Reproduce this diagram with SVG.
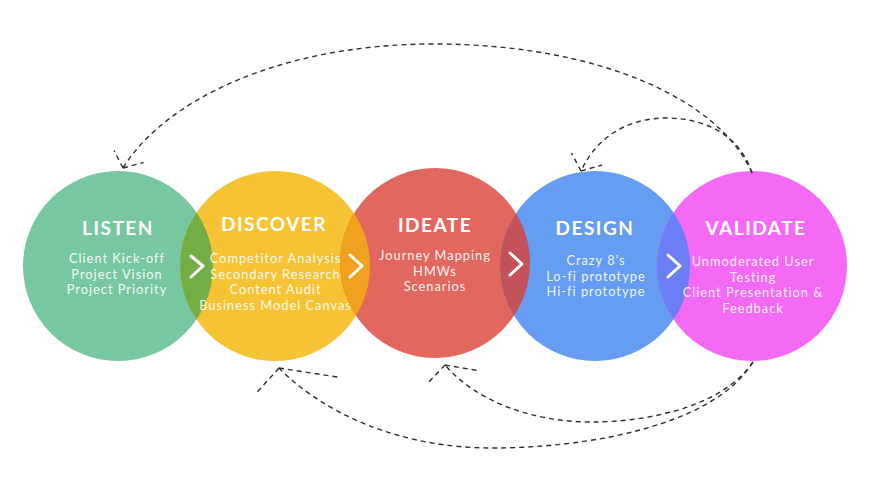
<svg xmlns="http://www.w3.org/2000/svg" width="870" height="489" viewBox="0 0 870 489">
<defs>
<style>
.title{font-family:Lato,"Open Sans","Liberation Sans",sans-serif;font-weight:700;font-size:19px;letter-spacing:1.5px;fill:#fff;text-anchor:middle}
.body{font-family:Lato,"Open Sans","Liberation Sans",sans-serif;font-weight:400;font-size:12.8px;letter-spacing:1px;fill:#fff;fill-opacity:0.93;text-anchor:middle}
.dash{fill:none;stroke:#2e2e2e;stroke-width:1.4;stroke-dasharray:5 4}
.chev{fill:none;stroke:#fff;stroke-width:3;stroke-linecap:round;stroke-linejoin:round}
</style>
<clipPath id="cl-listen"><circle cx="118" cy="266" r="95"/></clipPath>
<clipPath id="cl-discover"><circle cx="275" cy="266" r="95"/></clipPath>
<clipPath id="cl-ideate"><circle cx="435" cy="263" r="95"/></clipPath>
<clipPath id="cl-design"><circle cx="595" cy="266" r="95"/></clipPath>
</defs>
<rect width="870" height="489" fill="#fff"/>

<g id="listen">
<circle cx="118" cy="266" r="95" fill="#77C8A1"/>
<text class="title" x="118" y="235">LISTEN</text>
<text class="body" x="117" y="263">Client Kick-off</text>
<text class="body" x="117" y="278.5">Project Vision</text>
<text class="body" x="117" y="294">Project Priority</text>
</g>

<g id="discover">
<circle cx="275" cy="266" r="95" fill="#F5C333"/>
<circle cx="275" cy="266" r="95" fill="#73AD45" clip-path="url(#cl-listen)"/>
<text class="title" x="274" y="231">DISCOVER</text>
<text class="body" x="275.5" y="263">Competitor Analysis</text>
<text class="body" x="275.5" y="278.5">Secondary Research</text>
<text class="body" x="275.5" y="294">Content Audit</text>
<text class="body" x="275.5" y="309.5">Business Model Canvas</text>
</g>

<g id="ideate">
<circle cx="435" cy="263" r="95" fill="#E2685F"/>
<circle cx="435" cy="263" r="95" fill="#F0A11E" clip-path="url(#cl-discover)"/>
<text class="title" x="435" y="232">IDEATE</text>
<text class="body" x="435" y="260">Journey Mapping</text>
<text class="body" x="435" y="275.5">HMWs</text>
<text class="body" x="435" y="291">Scenarios</text>
</g>

<g id="design">
<circle cx="595" cy="266" r="95" fill="#659DF3"/>
<circle cx="595" cy="266" r="95" fill="#C4525B" clip-path="url(#cl-ideate)"/>
<text class="title" x="595" y="234.5">DESIGN</text>
<text class="body" x="596" y="265">Crazy 8’s</text>
<text class="body" x="596" y="280.5">Lo-fi prototype</text>
<text class="body" x="596" y="296">Hi-fi prototype</text>
</g>

<g id="validate">
<circle cx="752" cy="266" r="95" fill="#F46AF4"/>
<circle cx="752" cy="266" r="95" fill="#6C7EF5" clip-path="url(#cl-design)"/>
<text class="title" x="756" y="234.5">VALIDATE</text>
<text class="body" x="753" y="266">Unmoderated User</text>
<text class="body" x="753" y="281.5">Testing</text>
<text class="body" x="753" y="297">Client Presentation &amp;</text>
<text class="body" x="753" y="312.5">Feedback</text>
</g>

<g id="connectors">
<polyline class="chev" points="191,256 203,266 191,277"/>
<polyline class="chev" points="350,255 362,266 350,277"/>
<polyline class="chev" points="510,253 522,264 510,275"/>
<polyline class="chev" points="668,255 680,266 668,277"/>

<path class="dash" d="M752,173 C720,100 600,44 434,44 C280,44 165,100 123,168"/>
<path class="dash" d="M123,168 L114,150.5 M123,168 L143.5,162.5"/>

<path class="dash" d="M752,173 C740,135 705,118 666,118 C625,118 595,140 581,171"/>
<path class="dash" d="M581,171 L571.5,153 M581,171 L602,165"/>

<path class="dash" d="M753,362 C720,410 640,422 592,422 C530,422 475,400 445,365"/>
<path class="dash" d="M445,365 L427,384 M445,365 L480,371"/>

<path class="dash" d="M753,362 C715,425 590,448 492,448 C395,448 320,410 279,368"/>
<path class="dash" d="M279,368 L255,394.5 M279,368 L337.5,377"/>
</g>
</svg>
